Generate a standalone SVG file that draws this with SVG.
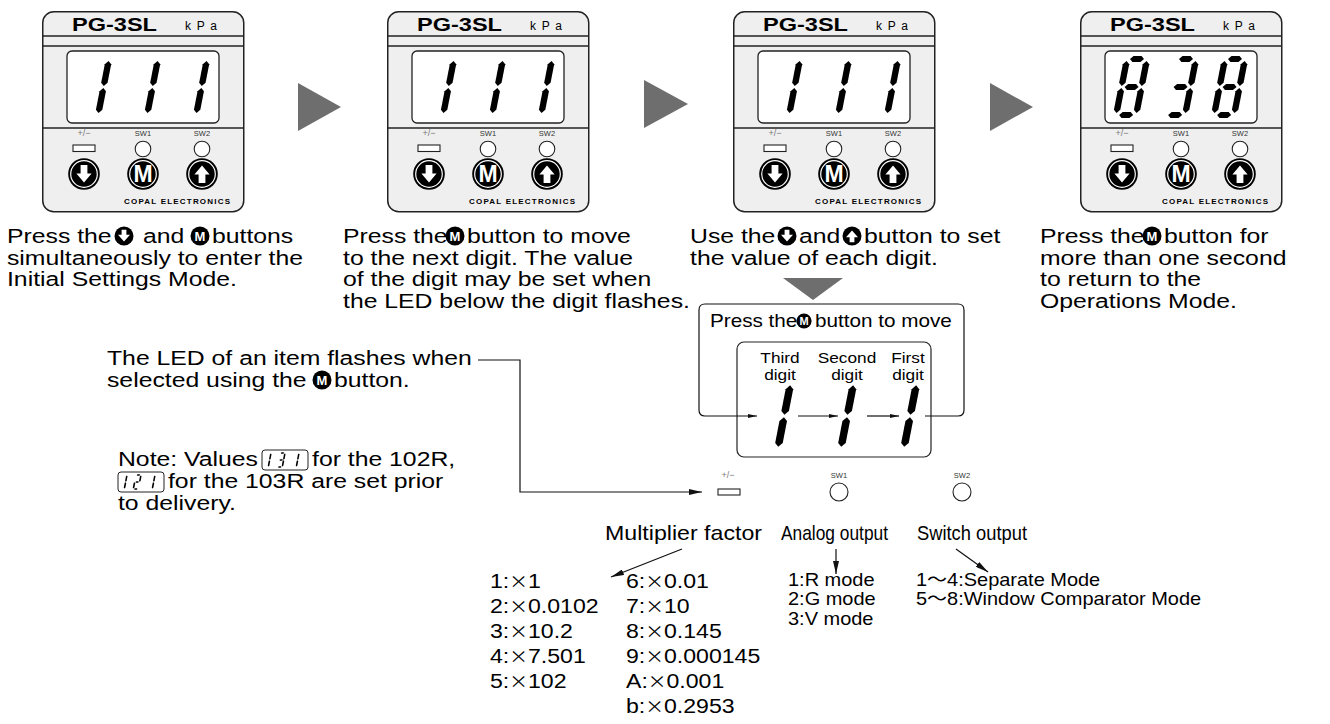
<svg xmlns="http://www.w3.org/2000/svg" width="1330" height="724" viewBox="0 0 1330 724">
<style>
text{font-family:"Liberation Sans",Arial,"Noto Sans CJK JP",sans-serif;fill:#000}
.t{font-size:21px;transform:scaleX(1.18);transform-box:fill-box;transform-origin:0 0}
.s{font-size:18px;transform:scaleX(1.15);transform-box:fill-box;transform-origin:0 0}
.c{font-size:15px;text-anchor:middle;transform:scaleX(1.15);transform-box:fill-box;transform-origin:50% 50%}
.m{font-size:21px;transform:scaleX(1.1);transform-box:fill-box;transform-origin:0 0}
.l{font-size:18px;transform:scaleX(1.11);transform-box:fill-box;transform-origin:0 0}
.lab{font-size:21px}
.x{font-family:"Noto Sans CJK JP",sans-serif;font-size:17px}
.im{font-size:13px;font-weight:bold;fill:#fff;text-anchor:middle}
.bm{font-size:23px;font-weight:bold;fill:#fff;text-anchor:middle}
.pg{font-size:17.5px;font-weight:bold}
.kpa{font-size:12px}
.sw{font-size:7.5px;text-anchor:middle;fill:#333}
.pm{font-size:9px;text-anchor:middle;fill:#777}
.cp{font-size:8px;font-weight:bold}
.ln{stroke:#222;stroke-width:1.3;fill:none}
.con{stroke:#111;stroke-width:1.2;fill:none}
.led{fill:#fff;stroke:#222;stroke-width:1.1}
.tri{fill:#6e6e6e}
</style>
<defs>
<marker id="ah" viewBox="0 0 13 6" refX="13" refY="3" markerWidth="13" markerHeight="6" markerUnits="userSpaceOnUse" orient="auto"><path d="M0,0L13,3L0,6z" fill="#111"/></marker>
<marker id="as" viewBox="0 0 9 4" refX="9" refY="2" markerWidth="9" markerHeight="4" markerUnits="userSpaceOnUse" orient="auto"><path d="M0,0L9,2L0,4z" fill="#111"/></marker>
<polygon id="sa" points="3,0 6,-3 14,-3 17,0 14,3 6,3"/>
<polygon id="sg" points="3,28 6,25 14,25 17,28 14,31 6,31"/>
<polygon id="sd" points="3,56 6,53 14,53 17,56 14,59 6,59"/>
<polygon id="sb" points="20,2 23.2,5.2 23.2,23.8 20,27 16.8,23.8 16.8,5.2"/>
<polygon id="sc" points="20,29 23.2,32.2 23.2,50.8 20,54 16.8,50.8 16.8,32.2"/>
<polygon id="sf" points="0,2 3.2,5.2 3.2,23.8 0,27 -3.2,23.8 -3.2,5.2"/>
<polygon id="se" points="0,29 3.2,32.2 3.2,50.8 0,54 -3.2,50.8 -3.2,32.2"/>
<g id="d1"><use href="#sb"/><use href="#sc"/></g>
<g id="d2"><use href="#sa"/><use href="#sb"/><use href="#sg"/><use href="#se"/><use href="#sd"/></g>
<g id="d3"><use href="#sa"/><use href="#sb"/><use href="#sc"/><use href="#sd"/><use href="#sg"/></g>
<g id="d8"><use href="#sa"/><use href="#sb"/><use href="#sc"/><use href="#sd"/><use href="#sg"/><use href="#se"/><use href="#sf"/></g>
<g id="bD"><circle r="15.8" fill="#000"/><circle r="13.3" fill="none" stroke="#fff" stroke-width="1.2"/><path d="M-3.4,-9h6.8v8.5h4.2l-7.6,9l-7.6,-9h4.2z" fill="#fff"/></g>
<g id="bU"><circle r="15.8" fill="#000"/><circle r="13.3" fill="none" stroke="#fff" stroke-width="1.2"/><path d="M-3.4,9h6.8v-8.5h4.2l-7.6,-9l-7.6,9h4.2z" fill="#fff"/></g>
<g id="bM"><circle r="15.8" fill="#000"/><circle r="13.3" fill="none" stroke="#fff" stroke-width="1.2"/></g>
<g id="iD"><circle r="9.5" fill="#000"/><path d="M-2.4,-6.2h4.8v5h3.6l-6,6.8l-6,-6.8h3.6z" fill="#fff"/></g>
<g id="iU"><circle r="9.5" fill="#000"/><path d="M-2.4,6.2h4.8v-5h3.6l-6,-6.8l-6,6.8h3.6z" fill="#fff"/></g>
<circle id="iC" r="9.5" fill="#000"/>
<g id="body">
<rect x="0.75" y="0.75" width="201" height="200" rx="11" fill="#efefef" stroke="#222" stroke-width="1.5"/>
<line class="ln" x1="0.75" y1="25" x2="201.75" y2="25"/>
<line class="ln" x1="0.75" y1="35" x2="201.75" y2="35"/>
<rect x="25" y="40" width="152" height="72" rx="5" fill="#fff" stroke="#222" stroke-width="1.3"/>
<line class="ln" x1="0.75" y1="117" x2="201.75" y2="117" stroke-width="1.6"/>
<rect class="led" x="31" y="134" width="22" height="6.5"/>
<circle class="led" cx="101" cy="138" r="7.8"/>
<circle class="led" cx="160" cy="138" r="7.8"/>
<use href="#bD" x="42" y="163"/>
<use href="#bM" x="101" y="163"/>
<use href="#bU" x="160" y="163"/>
</g>
</defs>
<rect width="1330" height="724" fill="#fff"/>

<g id="dev1" transform="translate(42,11)">
<use href="#body"/>
<text class="pg" x="30" y="20" textLength="85" lengthAdjust="spacingAndGlyphs">PG-3SL</text>
<text class="kpa" x="143" y="18.5" textLength="32" lengthAdjust="spacing">kPa</text>
<text class="pm" x="42" y="125">+/−</text><text class="sw" x="101" y="125">SW1</text><text class="sw" x="160" y="125">SW2</text>
<text class="bm" x="101" y="171.3">M</text>
<text class="cp" x="82" y="193" textLength="106" lengthAdjust="spacing">COPAL ELECTRONICS</text>
<use href="#d1" transform="translate(47,48) skewX(-11)"/><use href="#d1" transform="translate(96,48) skewX(-11)"/><use href="#d1" transform="translate(145,48) skewX(-11)"/>
</g>
<g id="dev2" transform="translate(387,11)">
<use href="#body"/>
<text class="pg" x="30" y="20" textLength="85" lengthAdjust="spacingAndGlyphs">PG-3SL</text>
<text class="kpa" x="143" y="18.5" textLength="32" lengthAdjust="spacing">kPa</text>
<text class="pm" x="42" y="125">+/−</text><text class="sw" x="101" y="125">SW1</text><text class="sw" x="160" y="125">SW2</text>
<text class="bm" x="101" y="171.3">M</text>
<text class="cp" x="82" y="193" textLength="106" lengthAdjust="spacing">COPAL ELECTRONICS</text>
<use href="#d1" transform="translate(47,48) skewX(-11)"/><use href="#d1" transform="translate(96,48) skewX(-11)"/><use href="#d1" transform="translate(145,48) skewX(-11)"/>
</g>
<g id="dev3" transform="translate(733,11)">
<use href="#body"/>
<text class="pg" x="30" y="20" textLength="85" lengthAdjust="spacingAndGlyphs">PG-3SL</text>
<text class="kpa" x="143" y="18.5" textLength="32" lengthAdjust="spacing">kPa</text>
<text class="pm" x="42" y="125">+/−</text><text class="sw" x="101" y="125">SW1</text><text class="sw" x="160" y="125">SW2</text>
<text class="bm" x="101" y="171.3">M</text>
<text class="cp" x="82" y="193" textLength="106" lengthAdjust="spacing">COPAL ELECTRONICS</text>
<use href="#d1" transform="translate(47,48) skewX(-11)"/><use href="#d1" transform="translate(96,48) skewX(-11)"/><use href="#d1" transform="translate(145,48) skewX(-11)"/>
</g>
<g id="dev4" transform="translate(1080,11)">
<use href="#body"/>
<text class="pg" x="30" y="20" textLength="85" lengthAdjust="spacingAndGlyphs">PG-3SL</text>
<text class="kpa" x="143" y="18.5" textLength="32" lengthAdjust="spacing">kPa</text>
<text class="pm" x="42" y="125">+/−</text><text class="sw" x="101" y="125">SW1</text><text class="sw" x="160" y="125">SW2</text>
<text class="bm" x="101" y="171.3">M</text>
<text class="cp" x="82" y="193" textLength="106" lengthAdjust="spacing">COPAL ELECTRONICS</text>
<use href="#d8" transform="translate(47,48) skewX(-11)"/><use href="#d3" transform="translate(96,48) skewX(-11)"/><use href="#d8" transform="translate(145,48) skewX(-11)"/>
</g>

<g id="step1">
<text class="t" x="7" y="243">Press the</text>
<use href="#iD" x="124" y="236"/>
<text class="t" x="143" y="243">and</text>
<use href="#iC" x="200" y="236"/><text class="im" x="200" y="240.7">M</text>
<text class="t" x="212" y="243">buttons</text>
<text class="t" x="7" y="264.7">simultaneously to enter the</text>
<text class="t" x="7" y="286.4">Initial Settings Mode.</text>
</g>
<g id="step2">
<text class="t" x="343" y="243">Press the</text>
<use href="#iC" x="455" y="236"/><text class="im" x="455" y="240.7">M</text>
<text class="t" x="467" y="243">button to move</text>
<text class="t" x="343" y="264.7">to the next digit. The value</text>
<text class="t" x="343" y="286.4">of the digit may be set when</text>
<text class="t" x="343" y="308">the LED below the digit flashes.</text>
</g>
<g id="step3">
<text class="t" x="690" y="243">Use the</text>
<use href="#iD" x="787" y="236"/>
<text class="t" x="799" y="243">and</text>
<use href="#iU" x="852" y="236"/>
<text class="t" x="864" y="243">button to set</text>
<text class="t" x="690" y="264.7">the value of each digit.</text>
</g>
<g id="step4">
<text class="t" x="1040" y="243">Press the</text>
<use href="#iC" x="1152" y="236"/><text class="im" x="1152" y="240.7">M</text>
<text class="t" x="1164" y="243">button for</text>
<text class="t" x="1040" y="264.7">more than one second</text>
<text class="t" x="1040" y="286.4">to return to the</text>
<text class="t" x="1040" y="308">Operations Mode.</text>
</g>

<g id="digit-move">
<text class="s" x="710" y="327">Press the</text>
<use href="#iC" transform="translate(804,321) scale(0.8)"/><text class="im" x="804" y="325" style="font-size:11px">M</text>
<text class="s" x="815" y="327">button to move</text>
<rect x="737" y="342" width="194" height="115" rx="7" fill="none" stroke="#222" stroke-width="1.2"/>
<text class="c" x="780" y="363">Third</text><text class="c" x="780" y="380">digit</text>
<text class="c" x="847" y="363">Second</text><text class="c" x="847" y="380">digit</text>
<text class="c" x="908" y="363">First</text><text class="c" x="908" y="380">digit</text>
<use href="#d1" transform="translate(767,383) scale(1.18) skewX(-11)"/>
<use href="#d1" transform="translate(830,383) scale(1.18) skewX(-11)"/>
<use href="#d1" transform="translate(893,383) scale(1.18) skewX(-11)"/>
</g>

<g id="led-note">
<text class="t" x="107" y="365">The LED of an item flashes when</text>
<text class="t" x="107" y="387">selected using the</text>
<use href="#iC" x="322" y="380"/><text class="im" x="322" y="384.7">M</text>
<text class="t" x="334" y="387">button.</text>
</g>

<g id="values-note">
<text class="t" x="118" y="466">Note: Values</text>
<rect x="262" y="450" width="46" height="20" rx="3" fill="#fff" stroke="#222" stroke-width="1"/>
<use href="#d1" transform="translate(266,453) scale(0.25) skewX(-11)"/><use href="#d3" transform="translate(280,453) scale(0.25) skewX(-11)"/><use href="#d1" transform="translate(294,453) scale(0.25) skewX(-11)"/>
<text class="t" x="312" y="466">for the 102R,</text>
<rect x="118" y="472" width="46" height="20" rx="3" fill="#fff" stroke="#222" stroke-width="1"/>
<use href="#d1" transform="translate(122,475) scale(0.25) skewX(-11)"/><use href="#d2" transform="translate(136,475) scale(0.25) skewX(-11)"/><use href="#d1" transform="translate(150,475) scale(0.25) skewX(-11)"/>
<text class="t" x="168" y="488">for the 103R are set prior</text>
<text class="t" x="118" y="510">to delivery.</text>
</g>

<g id="indicators">
<text class="pm" x="728" y="478">+/−</text>
<text class="sw" x="839" y="478">SW1</text>
<text class="sw" x="962" y="478">SW2</text>
<rect class="led" x="718" y="489" width="22" height="6"/>
<circle class="led" cx="839" cy="492" r="9"/>
<circle class="led" cx="962" cy="492" r="9"/>
<text class="lab" x="605" y="540" textLength="157" lengthAdjust="spacingAndGlyphs">Multiplier factor</text>
<text class="lab" x="781" y="540" textLength="107" lengthAdjust="spacingAndGlyphs">Analog output</text>
<text class="lab" x="917" y="540" textLength="110" lengthAdjust="spacingAndGlyphs">Switch output</text>
</g>

<g id="multiplier-list">
<text class="m" x="490" y="588">1:<tspan class="x">×</tspan>1</text>
<text class="m" x="490" y="613">2:<tspan class="x">×</tspan>0.0102</text>
<text class="m" x="490" y="638">3:<tspan class="x">×</tspan>10.2</text>
<text class="m" x="490" y="663">4:<tspan class="x">×</tspan>7.501</text>
<text class="m" x="490" y="688">5:<tspan class="x">×</tspan>102</text>
<text class="m" x="626" y="588">6:<tspan class="x">×</tspan>0.01</text>
<text class="m" x="626" y="613">7:<tspan class="x">×</tspan>10</text>
<text class="m" x="626" y="638">8:<tspan class="x">×</tspan>0.145</text>
<text class="m" x="626" y="663">9:<tspan class="x">×</tspan>0.000145</text>
<text class="m" x="626" y="688">A:<tspan class="x">×</tspan>0.001</text>
<text class="m" x="626" y="713">b:<tspan class="x">×</tspan>0.2953</text>
</g>
<g id="analog-list">
<text class="l" x="788" y="586">1:R mode</text>
<text class="l" x="788" y="605.5">2:G mode</text>
<text class="l" x="788" y="625">3:V mode</text>
</g>
<g id="switch-list">
<text class="l" x="916" y="586">1～4:Separate Mode</text>
<text class="l" x="916" y="605.5">5～8:Window Comparator Mode</text>
</g>

<g id="connectors">
<polygon class="tri" points="298,83 341,107 298,131"/>
<polygon class="tri" points="644,80 688,104 644,128"/>
<polygon class="tri" points="990,83 1033,107 990,131"/>
<polygon class="tri" points="783,278 843,278 813,300"/>
<path class="con" d="M925,416H958Q964,416 964,410V310Q964,304 958,304H705Q699,304 699,310V410Q699,416 705,416H757" marker-end="url(#as)"/>
<path class="con" d="M798,416H838" marker-end="url(#as)"/>
<path class="con" d="M867,416H899" marker-end="url(#as)"/>
<path class="con" d="M478,360H520V492H702" marker-end="url(#ah)"/>
<path class="con" d="M682,549L611,577" marker-end="url(#ah)"/>
<path class="con" d="M836,549V574" marker-end="url(#ah)"/>
<path class="con" d="M956,549L988,572" marker-end="url(#ah)"/>
</g>
</svg>
